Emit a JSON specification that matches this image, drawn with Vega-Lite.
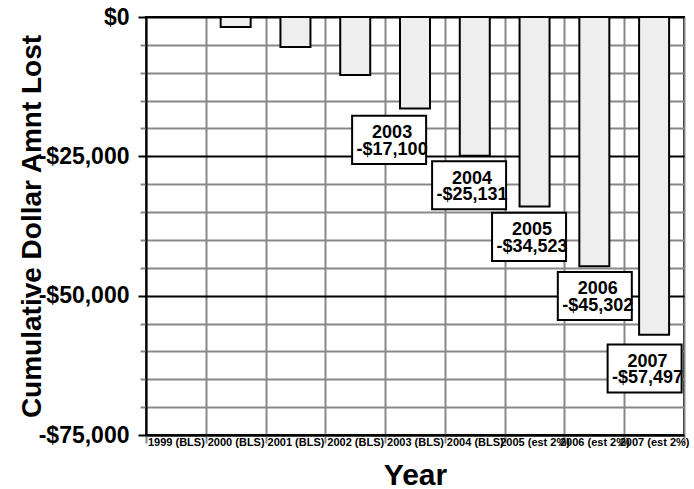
{
  "$schema": "https://vega.github.io/schema/vega-lite/v6.json",
  "width": 538,
  "height": 418,
  "autosize": "none",
  "padding": {"left": 146, "top": 17, "right": 10, "bottom": 54},
  "background": "white",
  "config": {
    "font": "Liberation Sans",
    "view": {"stroke": "black", "strokeWidth": 2}
  },
  "layer": [
    {
      "data": {"values": [
        {"g": -5000}, {"g": -10000}, {"g": -15000}, {"g": -20000},
        {"g": -30000}, {"g": -35000}, {"g": -40000}, {"g": -45000},
        {"g": -55000}, {"g": -60000}, {"g": -65000}, {"g": -70000}
      ]},
      "mark": {"type": "rule", "opacity": 0},
      "encoding": {
        "y": {
          "field": "g",
          "type": "quantitative",
          "scale": {"domain": [-75000, 0], "nice": false},
          "axis": {
            "orient": "left",
            "title": null,
            "values": [-5000, -10000, -15000, -20000, -30000, -35000, -40000, -45000, -55000, -60000, -65000, -70000],
            "labels": false,
            "domain": false,
            "tickSize": 6,
            "tickWidth": 2,
            "tickColor": "#888888",
            "grid": true,
            "gridColor": "#888888",
            "gridWidth": 2
          }
        }
      }
    },
    {
      "data": {
        "values": [
          {"year": "1999 (BLS)", "loss": 0},
          {"year": "2000 (BLS)", "loss": -1800},
          {"year": "2001 (BLS)", "loss": -5400},
          {"year": "2002 (BLS)", "loss": -10400},
          {"year": "2003 (BLS)", "loss": -16400},
          {"year": "2004 (BLS)", "loss": -24900},
          {"year": "2005 (est 2%)", "loss": -34000},
          {"year": "2006 (est 2%)", "loss": -44700},
          {"year": "2007 (est 2%)", "loss": -57000}
        ]
      },
      "mark": {"type": "bar", "size": 30, "fill": "#eeeeee", "stroke": "black", "strokeWidth": 2},
      "encoding": {
        "x": {
          "field": "year",
          "type": "nominal",
          "sort": null,
          "scale": {"paddingInner": 0, "paddingOuter": 0},
          "axis": {
            "title": "Year",
            "labelAngle": 0,
            "labelFontSize": 11,
            "labelFontWeight": "bold",
            "labelColor": "black",
            "labelPadding": -7,
            "labelOverlap": false,
            "tickBand": "extent",
            "tickColor": "#888888",
            "tickWidth": 2,
            "tickSize": 8,
            "grid": true,
            "gridColor": "#888888",
            "gridWidth": 2,
            "domainColor": "black",
            "domainWidth": 2,
            "titleFontSize": 30,
            "titleFontWeight": "bold",
            "titleColor": "black",
            "titleBaseline": "alphabetic",
            "titleY": 49
          }
        },
        "y": {
          "field": "loss",
          "type": "quantitative",
          "scale": {"domain": [-75000, 0], "nice": false},
          "axis": {
            "orient": "left",
            "title": "Cumulative Dollar Amnt Lost",
            "values": [0, -25000, -50000, -75000],
            "labelExpr": "datum.value === 0 ? '$0' : '-$' + format(-datum.value, ',')",
            "labelFontSize": 23,
            "labelFontWeight": "bold",
            "labelColor": "black",
            "labelPadding": 9,
            "labelOverlap": false,
            "tickSize": 8,
            "tickWidth": 2,
            "tickColor": "black",
            "grid": true,
            "gridColor": "black",
            "gridWidth": 2,
            "domainColor": "black",
            "domainWidth": 2,
            "titleFontSize": 28,
            "titleFontWeight": "bold",
            "titleColor": "black",
            "titleBaseline": "alphabetic",
            "titleX": -106
          }
        }
      }
    },
    {
      "data": {"values": [
        {"bx": 4.067, "by": -22050, "label": "2003\n-$17,100"},
        {"bx": 5.405, "by": -30180, "label": "2004\n-$25,131"},
        {"bx": 6.408, "by": -39450, "label": "2005\n-$34,523"},
        {"bx": 7.508, "by": -50060, "label": "2006\n-$45,302"},
        {"bx": 8.341, "by": -63060, "label": "2007\n-$57,497"}
      ]},
      "layer": [
        {
          "mark": {"type": "point", "shape": "M-1,-0.65L1,-0.65L1,0.65L-1,0.65Z", "size": 5476, "filled": true, "fill": "white", "stroke": "black", "strokeWidth": 2, "opacity": 1},
          "encoding": {
            "x": {"field": "bx", "type": "quantitative", "scale": {"domain": [0, 9], "nice": false, "zero": false}, "axis": null},
            "y": {"field": "by", "type": "quantitative", "scale": {"domain": [-75000, 0], "nice": false}, "axis": null}
          }
        },
        {
          "mark": {"type": "text", "fontSize": 18, "fontWeight": "bold", "lineBreak": "\n", "lineHeight": 16.5, "dx": 3, "dy": -6.7, "baseline": "middle", "align": "center", "color": "black"},
          "encoding": {
            "x": {"field": "bx", "type": "quantitative", "scale": {"domain": [0, 9], "nice": false, "zero": false}, "axis": null},
            "y": {"field": "by", "type": "quantitative", "scale": {"domain": [-75000, 0], "nice": false}, "axis": null},
            "text": {"field": "label"}
          }
        }
      ]
    }
  ],
  "resolve": {"scale": {"x": "independent", "y": "independent"}, "axis": {"y": "independent"}}
}
